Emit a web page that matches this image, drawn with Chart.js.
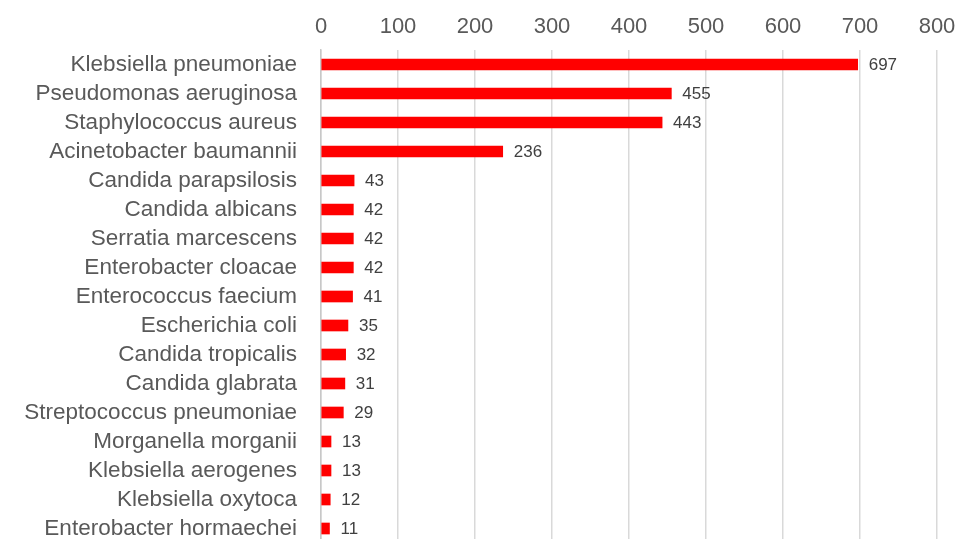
<!DOCTYPE html>
<html>
<head>
<meta charset="utf-8">
<script src="https://cdn.jsdelivr.net/npm/chart.js@4"></script>
<style>
  html, body { margin: 0; padding: 0; background: #fff; overflow: hidden; }
</style>
</head>
<body>
<canvas id="orgChart" width="957" height="543"></canvas>
<script>
const organisms = [
  "Klebsiella pneumoniae", "Pseudomonas aeruginosa", "Staphylococcus aureus",
  "Acinetobacter baumannii", "Candida parapsilosis", "Candida albicans",
  "Serratia marcescens", "Enterobacter cloacae", "Enterococcus faecium",
  "Escherichia coli", "Candida tropicalis", "Candida glabrata",
  "Streptococcus pneumoniae", "Morganella morganii", "Klebsiella aerogenes",
  "Klebsiella oxytoca", "Enterobacter hormaechei"
];
const counts = [697, 455, 443, 236, 43, 42, 42, 42, 41, 35, 32, 31, 29, 13, 13, 12, 11];
const axisTicks = [0, 100, 200, 300, 400, 500, 600, 700, 800];

const font = "'Liberation Sans', Arial, sans-serif";

// little plugin to write the value next to each bar
const valueLabels = {
    id: 'valueLabels',
    afterDatasetsDraw(chart) {
        const ctx = chart.ctx;
        const meta = chart.getDatasetMeta(0);
        ctx.save();
        ctx.font = "17px " + font;
        ctx.fillStyle = '#404040';
        ctx.textBaseline = 'middle';
        ctx.textAlign = 'left';
        meta.data.forEach((bar, i) => {
            ctx.fillText(String(counts[i]), bar.x + 11, bar.y + 1);
        });
        ctx.restore();
    }
};

const cvs = document.getElementById('orgChart');

new Chart(cvs, {
    type: 'bar',
    data: {
        labels: organisms,
        datasets: [{
            data: counts,
            backgroundColor: '#ff0000',
            borderWidth: 0,
            barThickness: 11
        }]
    },
    options: {
        indexAxis: 'y',
        responsive: false,
        animation: false,
        layout: { padding: { left: 0, right: 20, top: 0, bottom: 0 } },
        plugins: {
            legend: { display: false },
            tooltip: { enabled: false }
        },
        scales: {
            x: {
                position: 'top',
                min: 0,
                max: 800,
                afterBuildTicks: (s) => { s.ticks = axisTicks.map(v => ({ value: v })); },
                afterFit: (s) => { s.height = 50; s.paddingLeft = 0; s.paddingRight = 0; },
                grid: { color: '#d9d9d9', lineWidth: 1.5, drawTicks: false },
                border: { display: false },
                ticks: { color: '#595959', font: { family: font, size: 22 }, padding: 10 }
            },
            y: {
                afterFit: (s) => { s.width = 321; s.paddingTop = 0; s.paddingBottom = 0; },
                grid: { display: false },
                border: { display: true, color: '#c8c8c8', width: 1.5 },
                ticks: { color: '#595959', font: { family: font, size: 22.5 }, padding: 16, autoSkip: false }
            }
        }
    },
    plugins: [valueLabels]
});
</script>
</body>
</html>
